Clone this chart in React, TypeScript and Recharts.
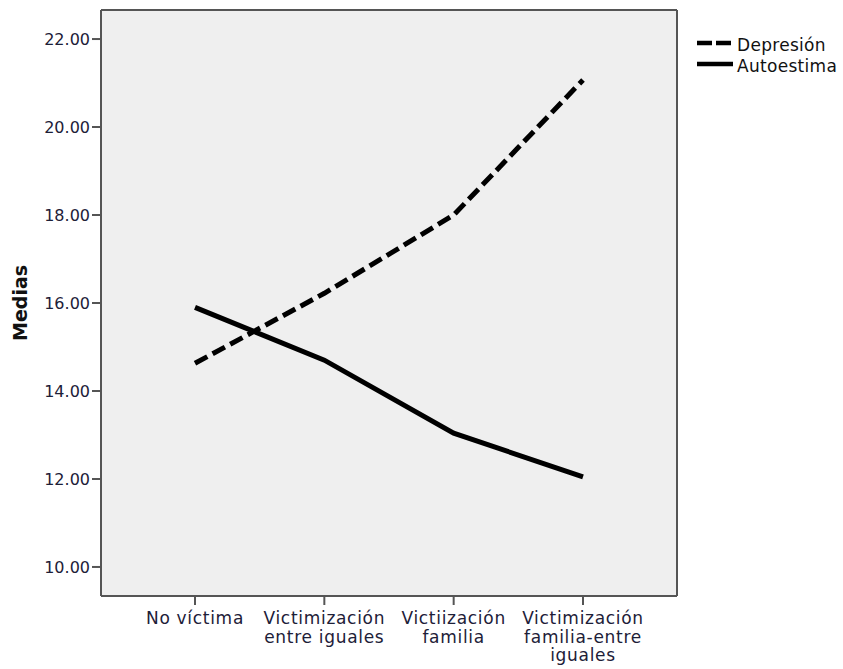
import React from 'react';
import { LineChart, Line, XAxis, YAxis, CartesianGrid } from 'recharts';

const categories = [
  'No víctima',
  'Victimización\nentre iguales',
  'Victiización\nfamilia',
  'Victimización\nfamilia-entre\niguales',
];
const depresion = [14.63, 16.22, 18.0, 21.07];
const autoestima = [15.9, 14.7, 13.04, 12.05];
const yTicks = [10, 12, 14, 16, 18, 20, 22];
const seriesNames = ['Depresión', 'Autoestima'];

const data = categories.map((c, i) => ({ cat: c, dep: depresion[i], auto: autoestima[i] }));

const TICK_COLOR = '#1d2038';
const FONT = '"DejaVu Sans", Verdana, sans-serif';

const XTick = (props: any) => {
  const { x, y, payload } = props;
  const lines = String(payload.value).split('\n');
  return (
    <text x={x} y={y} textAnchor="middle" fill={TICK_COLOR} fontSize={17} fontFamily={FONT} style={{ letterSpacing: 0.7 }}>
      {lines.map((l, i) => (
        <tspan key={i} x={x} dy={i === 0 ? 17 : 18.5}>{l}</tspan>
      ))}
    </text>
  );
};

const YLabel = (props: any) => {
  const vb = props.viewBox || {};
  const cx = 20;
  const cy = (vb.y ?? 10) + (vb.height ?? 586) / 2;
  return (
    <text x={cx} y={cy} transform={`rotate(-90, ${cx}, ${cy})`} textAnchor="middle" dominantBaseline="central"
      fontSize={19} fontWeight="bold" fontFamily={FONT} fill="#111">
      Medias
    </text>
  );
};

export default function App() {
  return (
    <div style={{ position: 'absolute', left: 0, top: 0, width: 843, height: 669, background: '#fff' }}>
      <LineChart width={843} height={669} data={data} margin={{ top: 10, right: 166, bottom: 0, left: 0 }}>
        <CartesianGrid horizontal={false} vertical={false} fill="#efefef" />
        <CartesianGrid
          fill="none"
          stroke="#555"
          strokeWidth={2}
          horizontalCoordinatesGenerator={(p: any) => [p.offset.top]}
          verticalCoordinatesGenerator={(p: any) => [p.offset.left + p.offset.width]}
        />
        <XAxis
          dataKey="cat"
          padding={{ left: 94, right: 94 }}
          height={73}
          tickSize={9}
          tickMargin={2}
          tick={<XTick />}
          interval={0}
          axisLine={{ stroke: '#555', strokeWidth: 2 }}
          tickLine={{ stroke: '#555', strokeWidth: 2 }}
        />
        <YAxis
          domain={[9.34, 22.66]}
          ticks={yTicks}
          allowDataOverflow
          width={101}
          tickSize={9}
          tickMargin={2}
          tickFormatter={(v: number) => v.toFixed(2)}
          tick={{ fill: TICK_COLOR, fontSize: 16, fontFamily: FONT }}
          axisLine={{ stroke: '#555', strokeWidth: 2 }}
          tickLine={{ stroke: '#555', strokeWidth: 2 }}
          label={<YLabel />}
        />
        <Line
          dataKey="dep"
          name={seriesNames[0]}
          stroke="#000"
          strokeWidth={5}
          strokeDasharray="14 6"
          dot={false}
          activeDot={false}
          isAnimationActive={false}
        />
        <Line
          dataKey="auto"
          name={seriesNames[1]}
          stroke="#000"
          strokeWidth={5}
          dot={false}
          activeDot={false}
          isAnimationActive={false}
        />
      </LineChart>
      <svg style={{ position: 'absolute', left: 690, top: 30 }} width={153} height={50}>
        <line x1={7} x2={43} y1={13} y2={13} stroke="#000" strokeWidth={4.5} strokeDasharray="15 4" />
        <text x={47} y={15} dominantBaseline="central" fontSize={17} fontFamily={FONT} fill="#111" style={{ letterSpacing: 0.3 }}>
          {seriesNames[0]}
        </text>
        <line x1={7} x2={43} y1={34} y2={34} stroke="#000" strokeWidth={4.5} />
        <text x={47} y={36} dominantBaseline="central" fontSize={17} fontFamily={FONT} fill="#111" style={{ letterSpacing: 0.3 }}>
          {seriesNames[1]}
        </text>
      </svg>
    </div>
  );
}
